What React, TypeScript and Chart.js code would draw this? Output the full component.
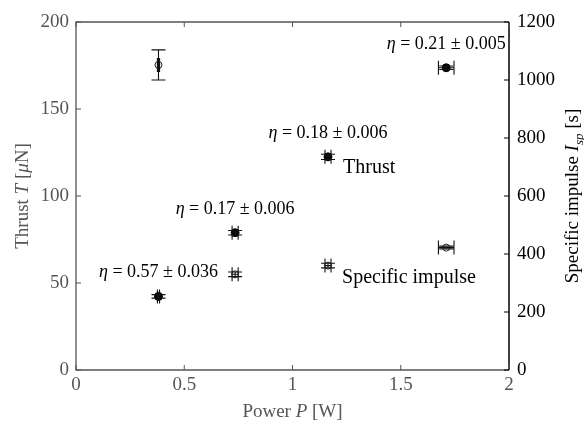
import { useEffect, useRef } from 'react';
import { Chart, registerables } from 'chart.js';
Chart.register(...registerables);

const FONT = '"Liberation Serif", "DejaVu Serif", serif';
const GRAY = '#555555';

// Data
const powerW = [0.381, 0.735, 1.164, 1.71];
const powerErrW = [0.005, 0.014, 0.014, 0.036];
const thrustUN = [42.3, 78.9, 122.5, 173.7];
const thrustErrUN = [1.0, 1.3, 1.5, 1.0];
const ispS = [1052, 330, 360, 422];
const ispErrS = [52, 8, 8, 5];
const etaValue = ['0.57', '0.17', '0.18', '0.21'];
const etaError = ['0.036', '0.006', '0.006', '0.005'];
const xTicks = [0, 0.5, 1, 1.5, 2];
const yTicks = [0, 50, 100, 150, 200];
const y1Ticks = [0, 200, 400, 600, 800, 1000, 1200];

type Part = { t: string; it?: boolean; sub?: boolean };

function drawRich(ctx: CanvasRenderingContext2D, parts: Part[], x: number, y: number, size: number, align: 'left' | 'center', color: string) {
  const fontOf = (p: Part) => `${p.it ? 'italic ' : ''}${p.sub ? Math.round(size * 0.7) : size}px ${FONT}`;
  let total = 0;
  const widths = parts.map((p) => {
    ctx.font = fontOf(p);
    const w = ctx.measureText(p.t).width;
    total += w;
    return w;
  });
  let cx = align === 'center' ? x - total / 2 : x;
  ctx.fillStyle = color;
  ctx.textAlign = 'left';
  ctx.textBaseline = 'alphabetic';
  parts.forEach((p, i) => {
    ctx.font = fontOf(p);
    ctx.fillText(p.t, cx, p.sub ? y + size * 0.25 : y);
    cx += widths[i];
  });
}

export default function App() {
  const ref = useRef<HTMLCanvasElement>(null);
  useEffect(() => {
    const canvas = ref.current!;
    const overlay = {
      id: 'overlay',
      afterDraw(chart: any) {
        const ctx: CanvasRenderingContext2D = chart.ctx;
        const { left, right, top, bottom } = chart.chartArea;
        const sx = chart.scales.x;
        const sy = chart.scales.y;
        const sy1 = chart.scales.y1;
        ctx.save();
        // frame
        ctx.lineWidth = 1.3;
        ctx.strokeStyle = GRAY;
        ctx.beginPath();
        ctx.moveTo(right, top);
        ctx.lineTo(left, top);
        ctx.lineTo(left, bottom);
        ctx.lineTo(right, bottom);
        ctx.stroke();
        ctx.strokeStyle = '#000';
        ctx.lineWidth = 1.5;
        ctx.beginPath();
        ctx.moveTo(right, top);
        ctx.lineTo(right, bottom);
        ctx.stroke();
        // ticks
        ctx.lineWidth = 1;
        ctx.strokeStyle = GRAY;
        ctx.beginPath();
        xTicks.forEach((v) => {
          const px = sx.getPixelForValue(v);
          ctx.moveTo(px, bottom);
          ctx.lineTo(px, bottom - 5);
          ctx.moveTo(px, top);
          ctx.lineTo(px, top + 5);
        });
        yTicks.forEach((v) => {
          const py = sy.getPixelForValue(v);
          ctx.moveTo(left, py);
          ctx.lineTo(left + 5, py);
        });
        ctx.stroke();
        ctx.strokeStyle = '#000';
        ctx.beginPath();
        y1Ticks.forEach((v) => {
          const py = sy1.getPixelForValue(v);
          ctx.moveTo(right, py);
          ctx.lineTo(right - 5, py);
        });
        ctx.stroke();

        // error bars
        const cap = 7;
        ctx.strokeStyle = '#111';
        ctx.lineWidth = 1.1;
        const bars = (xs: number[], xe: number[], ys: number[], ye: number[], scale: any) => {
          xs.forEach((xv, i) => {
            const px = sx.getPixelForValue(xv);
            const pxl = sx.getPixelForValue(xv - xe[i]);
            const pxr = sx.getPixelForValue(xv + xe[i]);
            const py = scale.getPixelForValue(ys[i]);
            const pyt = scale.getPixelForValue(ys[i] + ye[i]);
            const pyb = scale.getPixelForValue(ys[i] - ye[i]);
            ctx.beginPath();
            ctx.moveTo(px, pyt); ctx.lineTo(px, pyb);
            ctx.moveTo(px - cap, pyt); ctx.lineTo(px + cap, pyt);
            ctx.moveTo(px - cap, pyb); ctx.lineTo(px + cap, pyb);
            ctx.moveTo(pxl, py); ctx.lineTo(pxr, py);
            ctx.moveTo(pxl, py - cap); ctx.lineTo(pxl, py + cap);
            ctx.moveTo(pxr, py - cap); ctx.lineTo(pxr, py + cap);
            ctx.stroke();
          });
        };
        bars(powerW, powerErrW, thrustUN, thrustErrUN, sy);
        bars(powerW, powerErrW, ispS, ispErrS, sy1);

        // efficiency annotations
        powerW.forEach((xv, i) => {
          const px = sx.getPixelForValue(xv);
          const py = sy.getPixelForValue(thrustUN[i]);
          drawRich(ctx, [
            { t: 'η', it: true },
            { t: ' = ' + etaValue[i] + ' ± ' + etaError[i] },
          ], px, py - 19, 18, 'center', '#000');
        });
        // series labels
        const tx = sx.getPixelForValue(powerW[2]);
        const ty = sy.getPixelForValue(thrustUN[2]);
        drawRich(ctx, [{ t: 'Thrust' }], tx + 15, ty + 16, 20, 'left', '#000');
        const ix = sx.getPixelForValue(powerW[2]);
        const iy = sy1.getPixelForValue(ispS[2]);
        drawRich(ctx, [{ t: 'Specific impulse' }], ix + 14, iy + 17, 20, 'left', '#000');

        // axis titles
        const cy = (top + bottom) / 2;
        drawRich(ctx, [{ t: 'Power ' }, { t: 'P', it: true }, { t: ' [W]' }], (left + right) / 2, 417, 19, 'center', GRAY);
        ctx.save();
        ctx.translate(28, cy);
        ctx.rotate(-Math.PI / 2);
        drawRich(ctx, [{ t: 'Thrust ' }, { t: 'T', it: true }, { t: ' [' }, { t: 'μ', it: true }, { t: 'N]' }], 0, 0, 19, 'center', GRAY);
        ctx.restore();
        ctx.save();
        ctx.translate(578, cy);
        ctx.rotate(-Math.PI / 2);
        drawRich(ctx, [{ t: 'Specific impulse ' }, { t: 'I', it: true }, { t: 'sp', it: true, sub: true }, { t: ' [s]' }], 0, 0, 19, 'center', '#000');
        ctx.restore();
        ctx.restore();
      },
    };

    const tickFont = { family: FONT, size: 19 };
    const plain = (v: any) => String(v);
    const chart = new Chart(canvas, {
      type: 'scatter',
      data: {
        datasets: [
          {
            label: 'Thrust',
            data: powerW.map((x, i) => ({ x, y: thrustUN[i] })),
            yAxisID: 'y',
            pointRadius: 4,
            pointBackgroundColor: '#000',
            pointBorderColor: '#000',
            pointBorderWidth: 1,
          },
          {
            label: 'Specific impulse',
            data: powerW.map((x, i) => ({ x, y: ispS[i] })),
            yAxisID: 'y1',
            pointRadius: 3.5,
            pointBackgroundColor: '#fff',
            pointBorderColor: '#222',
            pointBorderWidth: 1,
          },
        ],
      },
      options: {
        responsive: false,
        devicePixelRatio: 1,
        animation: false,
        layout: { padding: { top: 22, left: 0, right: 0, bottom: 0 } },
        plugins: { legend: { display: false }, tooltip: { enabled: false } },
        scales: {
          x: {
            type: 'linear', min: 0, max: 2, position: 'bottom',
            grid: { display: false, drawTicks: false }, border: { display: false },
            ticks: { stepSize: 0.5, padding: 4, color: GRAY, font: tickFont, callback: plain },
            afterFit: (s: any) => { s.height = 55; },
          },
          y: {
            type: 'linear', min: 0, max: 200, position: 'left',
            grid: { display: false, drawTicks: false }, border: { display: false },
            ticks: { stepSize: 50, padding: 7, color: GRAY, font: tickFont, callback: plain },
            afterFit: (s: any) => { s.width = 76; },
          },
          y1: {
            type: 'linear', min: 0, max: 1200, position: 'right',
            grid: { display: false, drawTicks: false }, border: { display: false },
            ticks: { stepSize: 200, padding: 8, color: '#000', font: tickFont, callback: plain },
            afterFit: (s: any) => { s.width = 75; },
          },
        },
      },
      plugins: [overlay],
    });
    return () => chart.destroy();
  }, []);
  return (
    <div style={{ position: 'absolute', left: 0, top: 0, width: 584, height: 425, background: '#fff' }}>
      <canvas ref={ref} width={584} height={425} style={{ display: 'block', width: 584, height: 425 }} />
    </div>
  );
}
